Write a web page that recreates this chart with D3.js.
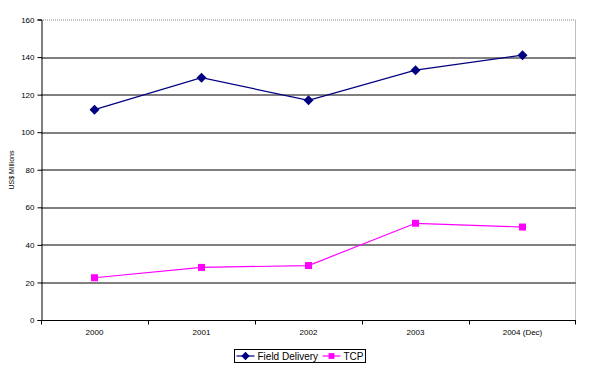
<!DOCTYPE html>
<html>
<head>
<meta charset="utf-8">
<script src="https://cdn.jsdelivr.net/npm/d3@7"></script>
<style>
  body { margin: 0; background: #fff; }
  svg { font-family: "Liberation Sans", Arial, sans-serif; }
</style>
</head>
<body>
<div id="chart"></div>
<script>
const years = ["2000", "2001", "2002", "2003", "2004 (Dec)"];
const fieldDelivery = [112, 129, 117, 133, 141];
const tcp = [22.5, 28, 29, 51.5, 49.5];
const yTicks = [0, 20, 40, 60, 80, 100, 120, 140, 160];

const margin = { top: 19.5, right: 28, bottom: 50, left: 41 };
const W = 604, H = 370;
const width = W - margin.left - margin.right;
const height = 320 - margin.top;

const svg = d3.select("#chart").append("svg")
  .attr("width", W).attr("height", H);

const g = svg.append("g")
  .attr("transform", `translate(${margin.left}, ${margin.top})`);

const x = d3.scaleBand().domain(years).range([0, width]);
const y = d3.scaleLinear().domain([0, 160]).range([height, 0]);

// gridlines
g.selectAll(".grid").data(yTicks.filter(d => d > 0 && d < 160)).enter()
  .append("line")
  .attr("x1", 0).attr("x2", width)
  .attr("y1", d => Math.round(y(d)) + 0.5).attr("y2", d => Math.round(y(d)) + 0.5)
  .attr("stroke", "#000").attr("stroke-width", 1);

// top and right border (gray dotted)
g.append("path")
  .attr("d", `M0,0.5H${width - 0.5}V${height}`)
  .attr("fill", "none").attr("stroke", "#808080")
  .attr("stroke-dasharray", "1,1");

// y axis
const yAxis = d3.axisLeft(y).tickValues(yTicks).tickSize(4).tickPadding(3);
g.append("g").attr("transform", "translate(0.5,0)").call(yAxis)
  .call(s => s.select(".domain").attr("stroke", "#000"))
  .call(s => s.selectAll("text").attr("font-size", 8).attr("fill", "#000"));

// x axis
const xAxisG = g.append("g").attr("transform", `translate(0, ${height + 0.5})`);
xAxisG.append("line").attr("x1", 0).attr("x2", width).attr("stroke", "#000");
xAxisG.selectAll(".xt").data(years.concat(["end"])).enter().append("line")
  .attr("x1", (d, i) => i < years.length ? Math.round(x(d)) + 0.5 : width - 0.5)
  .attr("x2", (d, i) => i < years.length ? Math.round(x(d)) + 0.5 : width - 0.5)
  .attr("y1", 0).attr("y2", 4).attr("stroke", "#000");
xAxisG.selectAll(".xl").data(years).enter().append("text")
  .attr("x", d => x(d) + x.bandwidth() / 2)
  .attr("y", 14)
  .attr("text-anchor", "middle")
  .attr("font-size", 8)
  .text(d => d);

// y label
svg.append("text")
  .attr("transform", "translate(14, 170) rotate(-90)")
  .attr("text-anchor", "middle")
  .attr("font-size", 7)
  .text("US$ Millions");

const cx = d => x(d) + x.bandwidth() / 2;
const line = d3.line().x(d => cx(d[0])).y(d => y(d[1]));

const series = [
  { name: "Field Delivery", values: fieldDelivery, color: "#000080", rot: 45, size: 50 },
  { name: "TCP", values: tcp, color: "#FF00FF", rot: 0, size: 49 }
];

series.forEach(s => {
  const pts = years.map((yr, i) => [yr, s.values[i]]);
  g.append("path").datum(pts)
    .attr("d", line).attr("fill", "none")
    .attr("stroke", s.color).attr("stroke-width", 1.2);
  g.selectAll(null).data(pts).enter().append("path")
    .attr("transform", d => `translate(${cx(d[0])}, ${y(d[1])}) rotate(${s.rot})`)
    .attr("d", d3.symbol().type(d3.symbolSquare).size(s.size))
    .attr("fill", s.color);
});

// legend
const lg = svg.append("g").attr("transform", "translate(234.5, 349.5)");
lg.append("rect").attr("width", 131).attr("height", 13)
  .attr("fill", "#fff").attr("stroke", "#000");
const legendPos = [2, 88];
series.forEach((s, i) => {
  const lx = legendPos[i];
  lg.append("line").attr("x1", lx).attr("x2", lx + 18)
    .attr("y1", 6.5).attr("y2", 6.5).attr("stroke", s.color).attr("stroke-width", 1.2);
  lg.append("path").attr("transform", `translate(${lx + 9}, 6.5) rotate(${s.rot})`)
    .attr("d", d3.symbol().type(d3.symbolSquare).size(s.size * 0.7))
    .attr("fill", s.color);
  lg.append("text").attr("x", lx + 21).attr("y", 10.5)
    .attr("font-size", 10).text(s.name);
});
</script>
</body>
</html>
